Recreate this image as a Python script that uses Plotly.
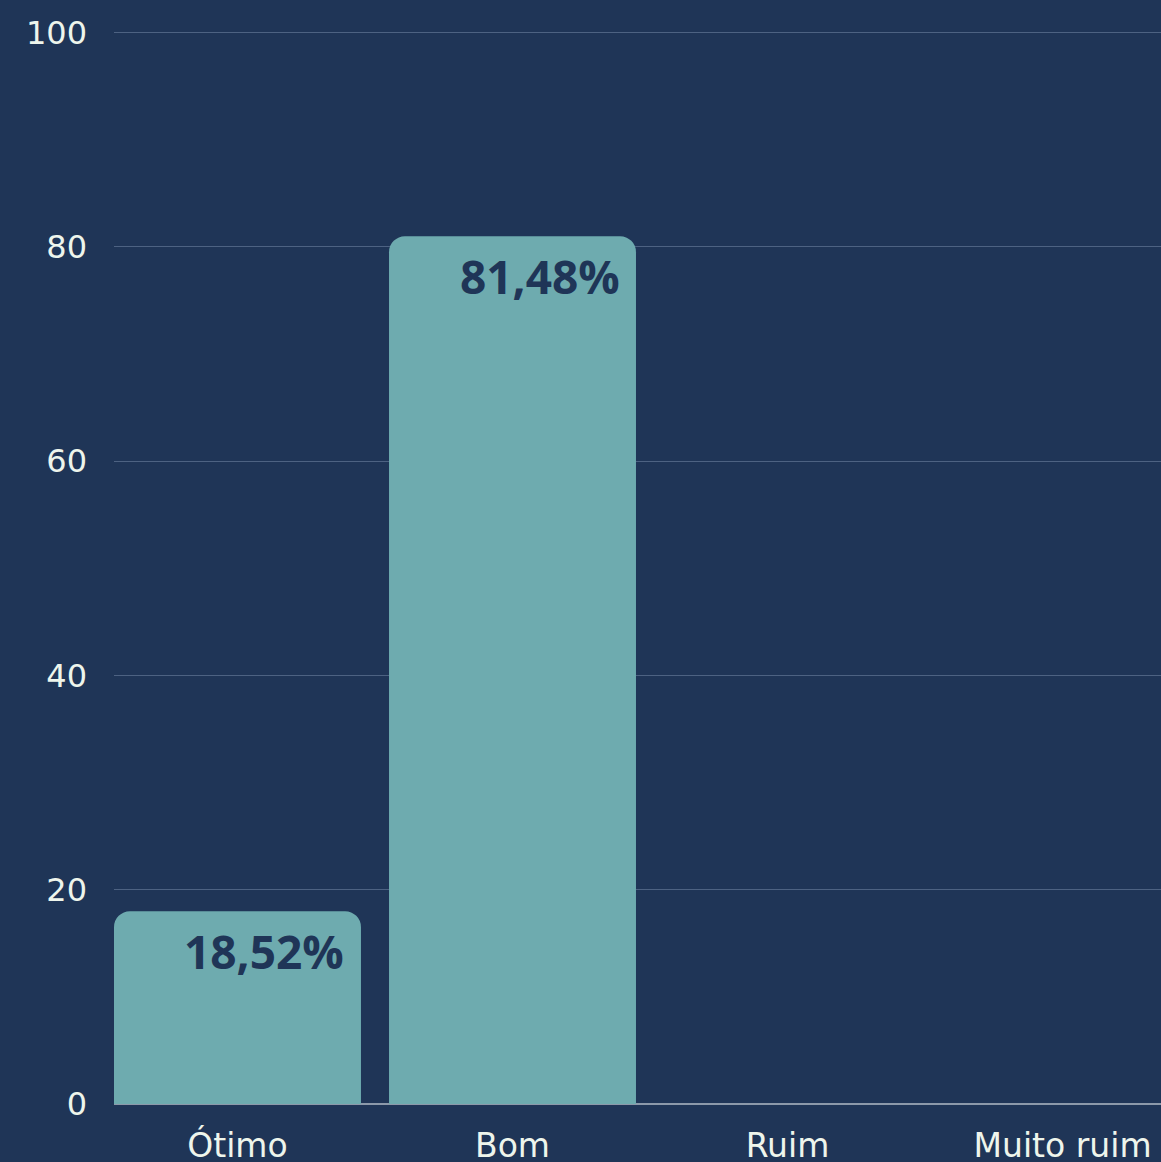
import plotly.graph_objects as go

categories = ["Ótimo", "Bom", "Ruim", "Muito ruim"]
bar_heights = [18, 81, 0, 0]
bar_labels = ["18,52%", "81,48%", "", ""]
y_ticks = [0, 20, 40, 60, 80, 100]

BG = "#1f3557"
BAR = "#6eabaf"
TXT = "#eef5ec"

fig = go.Figure()
fig.add_trace(go.Bar(
    x=categories, y=bar_heights,
    marker=dict(color=BAR, line=dict(width=0)),
    hoverinfo="skip",
))

for c, h, t in zip(categories, bar_heights, bar_labels):
    if t:
        fig.add_annotation(
            x=c, y=h, xref="x", yref="y", text=f"<b>{t}</b>",
            showarrow=False, xanchor="right", yanchor="top",
            xshift=109, yshift=-7,
            font=dict(family="Open Sans", size=46, color=BG),
        )

fig.update_layout(
    width=1161, height=1162,
    margin=dict(l=114, r=0, t=31, b=58),
    paper_bgcolor=BG, plot_bgcolor=BG,
    bargap=0.102, barcornerradius=16,
    showlegend=False,
    font=dict(family="DejaVu Sans", size=33, color=TXT),
)
fig.update_xaxes(
    type="category", range=[-0.449, 3.358],
    showgrid=False, showline=False, ticks="",
    ticklabelstandoff=19, automargin=False,
    tickfont=dict(family="DejaVu Sans", size=33, color=TXT),
)
fig.update_yaxes(
    range=[0, 100.15], tickvals=y_ticks,
    showgrid=True, gridcolor="#4d6282", gridwidth=1,
    zeroline=True, zerolinecolor="#8c99aa", zerolinewidth=2,
    showline=False, ticks="", automargin=False,
    ticklabelstandoff=26,
    tickfont=dict(family="DejaVu Sans", size=32, color=TXT),
)

fig.write_html(
    "out.html",
    config={"displayModeBar": False},
    post_script="document.body.style.margin='0';document.body.style.overflow='hidden';",
)
